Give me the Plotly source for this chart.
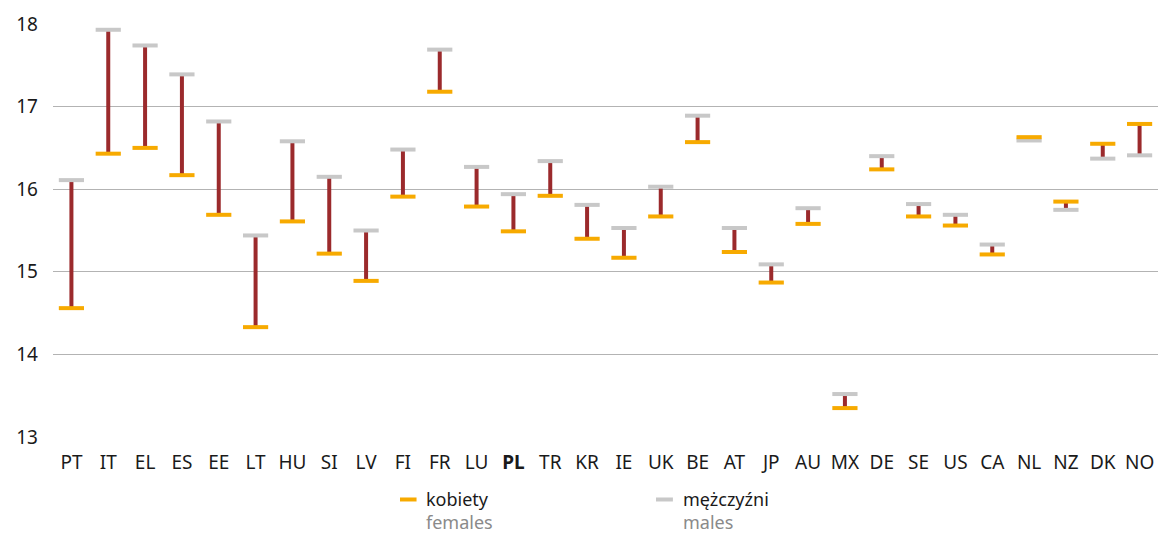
import plotly.graph_objects as go

countries = ["PT", "IT", "EL", "ES", "EE", "LT", "HU", "SI", "LV", "FI", "FR", "LU", "PL", "TR", "KR",
             "IE", "UK", "BE", "AT", "JP", "AU", "MX", "DE", "SE", "US", "CA", "NL", "NZ", "DK", "NO"]
females = [14.56, 16.43, 16.50, 16.17, 15.69, 14.33, 15.61, 15.22, 14.89, 15.91, 17.18, 15.79, 15.49, 15.92, 15.40,
           15.17, 15.67, 16.57, 15.24, 14.87, 15.58, 13.35, 16.24, 15.67, 15.56, 15.21, 16.63, 15.85, 16.55, 16.79]
males = [16.11, 17.93, 17.74, 17.39, 16.82, 15.44, 16.58, 16.15, 15.50, 16.48, 17.69, 16.27, 15.94, 16.34, 15.81,
         15.53, 16.03, 16.89, 15.53, 15.09, 15.77, 13.52, 16.40, 15.82, 15.69, 15.33, 16.59, 15.75, 16.37, 16.41]
tick_labels = ["<b>PL</b>" if c == "PL" else c for c in countries]
y_ticks = [13, 14, 15, 16, 17, 18]

FONT = "Noto Sans"
RED = "#9B2A2C"
ORANGE = "#F7AA00"
GREY = "#C8C8C8"

# connector segments
seg_x, seg_y = [], []
for c, f, m in zip(countries, females, males):
    seg_x += [c, c, None]
    seg_y += [f, m, None]

fig = go.Figure()
fig.add_trace(go.Scatter(x=seg_x, y=seg_y, mode="lines", line=dict(color=RED, width=4),
                         showlegend=False, hoverinfo="skip"))
fig.add_trace(go.Scatter(x=countries, y=males, mode="markers", name="mężczyźni",
                         marker=dict(symbol="line-ew", size=18, line=dict(color=GREY, width=4)),
                         showlegend=False))
fig.add_trace(go.Scatter(x=countries, y=females, mode="markers", name="kobiety",
                         marker=dict(symbol="line-ew", size=18, line=dict(color=ORANGE, width=4)),
                         showlegend=False))

# legend (custom, two-line labels)
legend_items = [(0.314, 0.329, ORANGE, "kobiety", "females"),
                (0.5457, 0.561, GREY, "mężczyźni", "males")]
for x0, x1, col, pl, en in legend_items:
    fig.add_shape(type="line", xref="paper", yref="paper", x0=x0, x1=x1, y0=-0.1513, y1=-0.1513,
                  line=dict(color=col, width=4))
    fig.add_annotation(xref="paper", yref="paper", x=x1 + 0.008, y=-0.1777,
                       text=f"{pl}<br><span style='color:#8a8a8a'>{en}</span>",
                       showarrow=False, align="left", borderpad=0,
                       xanchor="left", yanchor="middle", font=dict(family=FONT, size=18, color="#1a1a1a"))

fig.update_layout(
    width=1169, height=536,
    margin=dict(l=53, r=11, t=20, b=99),
    plot_bgcolor="white", paper_bgcolor="white",
    font=dict(family=FONT, size=19, color="#1a1a1a"),
    xaxis=dict(type="category", categoryorder="array", categoryarray=countries,
               tickmode="array", tickvals=countries, ticktext=tick_labels,
               showgrid=False, zeroline=False, showline=False, ticks="",
               ticklabelstandoff=12,
               range=[-0.5, len(countries) - 0.5]),
    yaxis=dict(range=[13, 18], tickvals=y_ticks, showgrid=True, gridcolor="#B3B3B3", gridwidth=1.3,
               zeroline=False, showline=False, ticks="", ticklabelstandoff=14),
    showlegend=False,
)

fig.write_html("out.html", config={"displayModeBar": False},
               post_script="document.body.style.margin='0';")
